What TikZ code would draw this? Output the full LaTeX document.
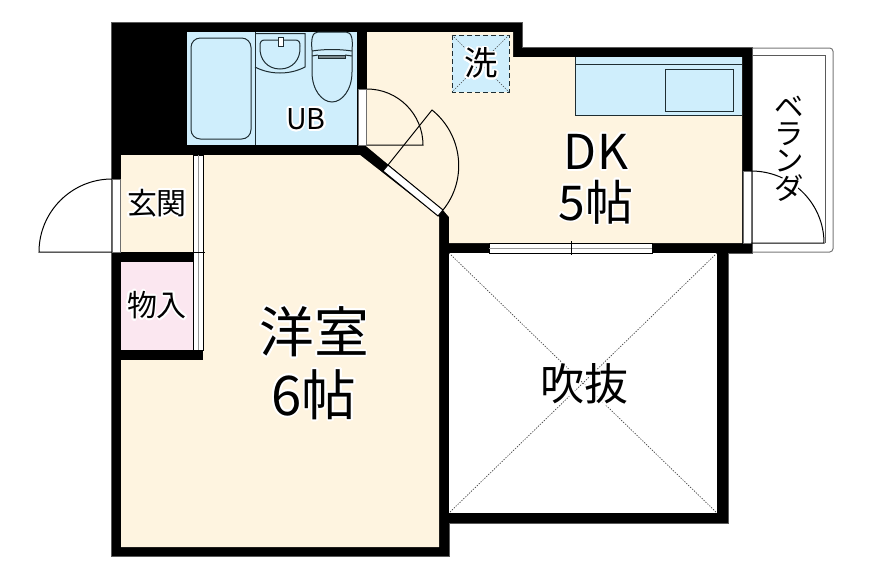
\documentclass[tikz,border=0pt]{standalone}
\usepackage{fontspec}
\usepackage[copies]{contour}
\setmainfont{Noto Sans CJK JP}
\contourlength{1.3pt}
\contournumber{24}
\newcommand{\halo}[1]{\contour{white}{#1}}
\tikzset{
	wall/.style={fill={rgb, 255:red, 0; green, 0; blue, 0 },draw={rgb, 255:red, 90; green, 90; blue, 90 },line width=0.4pt},
	floor/.style={fill={rgb, 255:red, 254; green, 244; blue, 224 }},
	wet/.style={fill={rgb, 255:red, 207; green, 238; blue, 252 }},
	closet/.style={fill={rgb, 255:red, 251; green, 231; blue, 240 }},
	fixture/.style={draw={rgb, 255:red, 30; green, 45; blue, 50 },line width=0.75pt},
	swing/.style={draw={rgb, 255:red, 0; green, 0; blue, 0 },line width=0.75pt},
	sill/.style={fill={rgb, 255:red, 255; green, 255; blue, 255 },draw={rgb, 255:red, 110; green, 110; blue, 110 },line width=0.4pt},
	sash/.style={fill={rgb, 255:red, 255; green, 255; blue, 255 },draw={rgb, 255:red, 0; green, 0; blue, 0 },line width=0.75pt},
	sashline/.style={draw={rgb, 255:red, 150; green, 150; blue, 150 },line width=0.75pt},
	xline/.style={draw={rgb, 255:red, 70; green, 70; blue, 70 },line width=0.5pt,dash pattern={on 1pt off 1pt}},
	label/.style={inner sep=0.75pt,align=center}
}

\begin{document}
\begin{tikzpicture}[x=0.75pt,y=0.75pt,yscale=-1,xscale=1]
	\useasboundingbox (0,0) rectangle (869,578);
	
	%Shape: Veranda outer
	\draw [draw={rgb, 255:red, 120; green, 120; blue, 120 },line width=0.75pt,rounded corners=2.5pt] (752,48) -- (833,48) -- (833,252) -- (752,252) ;
	%Straight Lines: Veranda inner
	\draw [draw={rgb, 255:red, 90; green, 90; blue, 90 },line width=0.6pt] (752,55) -- (825,55) -- (825,243) ;
	%Shape: Outer walls
	\draw [wall] (111,22) -- (522,22) -- (522,47) -- (752,47) -- (752,253) -- (728,253) -- (728,523) -- (449,523) -- (449,556) -- (111,556) -- cycle ;
	%Shape: DK floor
	\fill [floor] (367,32) -- (513,32) -- (513,57) -- (742,57) -- (742,243) -- (449,243) -- (449,217) -- (443,210) -- (366,146) -- (367,145) -- cycle ;
	%Shape: Western room floor
	\fill [floor] (203,155) -- (360,155) -- (438,216) -- (439,217) -- (439,547) -- (121,547) -- (121,360) -- (203,360) -- cycle ;
	%Shape: Entrance floor
	\fill [floor] (121,155) rectangle (193,252) ;
	%Shape: Closet floor
	\fill [closet] (121,262) rectangle (193,350) ;
	%Shape: Bath floor
	\fill [wet] (187,32) rectangle (357,145) ;
	%Shape: Void
	\fill [white] (449,253) rectangle (717,513) ;
	%Shape: Laundry
	\fill [wet] (452,35) rectangle (509,92) ;
	\draw [fixture,dash pattern={on 4pt off 2pt}] (452,35) rectangle (509,92) ;
	\draw [xline] (452,35) -- (509,92) ;
	\draw [xline] (509,35) -- (452,92) ;
	%Shape: Kitchen
	\fill [wet] (575,57) rectangle (742,115) ;
	\draw [fixture] (575,57) -- (575,115) -- (742,115) ;
	\draw [fixture] (575,64) -- (742,64) ;
	\draw [fixture] (665,69) rectangle (733,111) ;
	
	%Straight Lines: Bath divider
	\draw [fixture] (255,32) -- (255,145) ;
	%Shape: Tub
	\draw [fixture,rounded corners=7pt] (191,38) rectangle (251,139) ;
	%Shape: Basin counter
	\draw [fixture] (255,33.5) -- (305,33.5) -- (305,67) .. controls (290,75) and (270,75) .. (255,67) ;
	%Shape: Basin
	\draw [fixture] (260,46) .. controls (260,42) and (261,40) .. (265,40) -- (295,40) .. controls (299,40) and (300,42) .. (300,46) .. controls (301,60) and (292,69) .. (280,69) .. controls (268,69) and (259,60) .. (260,46) -- cycle ;
	\draw [fixture,fill=white] (278,37) rectangle (283,46) ;
	%Shape: Toilet
	\draw [fixture] (312,50) .. controls (311,40) and (312,32) .. (318,32) -- (346,32) .. controls (352,32) and (353,40) .. (352,50) -- (352,72) .. controls (352,90) and (342,102) .. (332,102) .. controls (322,102) and (312,90) .. (312,72) -- cycle ;
	\draw [fixture] (312,51) .. controls (325,49) and (339,49) .. (352,51) ;
	\draw [fixture] (312,56) -- (318,55) ;
	\draw [fixture] (345,55) -- (352,56) ;
	\draw [fixture,fill={rgb, 255:red, 120; green, 135; blue, 140 }] (318,55) rectangle (345,58) ;
	
	%Shape: Entrance door sill
	\draw [sill] (112,179) rectangle (120,252) ;
	%Shape: Bath door sill
	\draw [sill] (358,89) rectangle (366,145) ;
	%Shape: Veranda door sill
	\draw [sill] (743,171) rectangle (751,243) ;
	%Shape: Chamfer door sill
	\draw [sash] (388,165) -- (443,210) -- (438,216) -- (383,171) -- cycle ;
	%Shape: Closet sash
	\draw [sash] (193,155) rectangle (203,350) ;
	\draw [sashline] (198,155) -- (198,350) ;
	\draw [swing] (193,252) -- (205,252) ;
	%Shape: DK window
	\draw [sash] (489,243) rectangle (652,253) ;
	\draw [sashline] (489,248) -- (652,248) ;
	\draw [swing] (571,241) -- (571,255) ;
	
	%Curve Lines: Entrance door
	\draw [swing] (112,179) .. controls (71.7,179) and (39,211.7) .. (39,252) -- (112,252) ;
	%Curve Lines: Bath door
	\draw [swing] (367,89) .. controls (397.9,89) and (423,114.1) .. (423,145) -- (367,145) ;
	%Curve Lines: DK door
	\draw [swing] (388,165) -- (432,110) .. controls (462.6,134.5) and (467.8,179.6) .. (443,210) ;
	%Curve Lines: Veranda door
	\draw [swing] (751,171) .. controls (791.3,171) and (824,203.2) .. (824,243) -- (751,243) ;
	
	%Straight Lines: Void cross
	\draw [xline] (449,253) -- (717,513) ;
	\draw [xline] (717,253) -- (449,513) ;
	
	% Text Node
	\node (westlabel) [label,font=\fontsize{41}{47}\selectfont] at (314,364) {\halo{洋室}\\\halo{6帖}};
	% Text Node
	\node (dklabel) [label,font=\fontsize{36}{38}\selectfont] at (596,180) {\halo{DK}\\\halo{5帖}};
	% Text Node
	\node (voidlabel) [label,font=\fontsize{33}{33}\selectfont] at (584,385) {\halo{吹抜}};
	% Text Node
	\node (entrylabel) [label,font=\fontsize{22.5}{22.5}\selectfont] at (157,204) {\halo{玄関}};
	% Text Node
	\node (closetlabel) [label,font=\fontsize{22.5}{22.5}\selectfont] at (157,306) {\halo{物入}};
	% Text Node
	\node (bathlabel) [label,font=\fontsize{21.5}{21.5}\selectfont] at (306,120) {\halo{UB}};
	% Text Node
	\node (washlabel) [label,font=\fontsize{25}{25}\selectfont] at (481,64) {\halo{洗}};
	% Text Node
	\node (verandalabel) [label,font=\fontsize{22}{20}\selectfont] at (789,150) {\halo{ベ}\\\halo{ラ}\\\halo{ン}\\\halo{ダ}};
	
\end{tikzpicture}
\end{document}
